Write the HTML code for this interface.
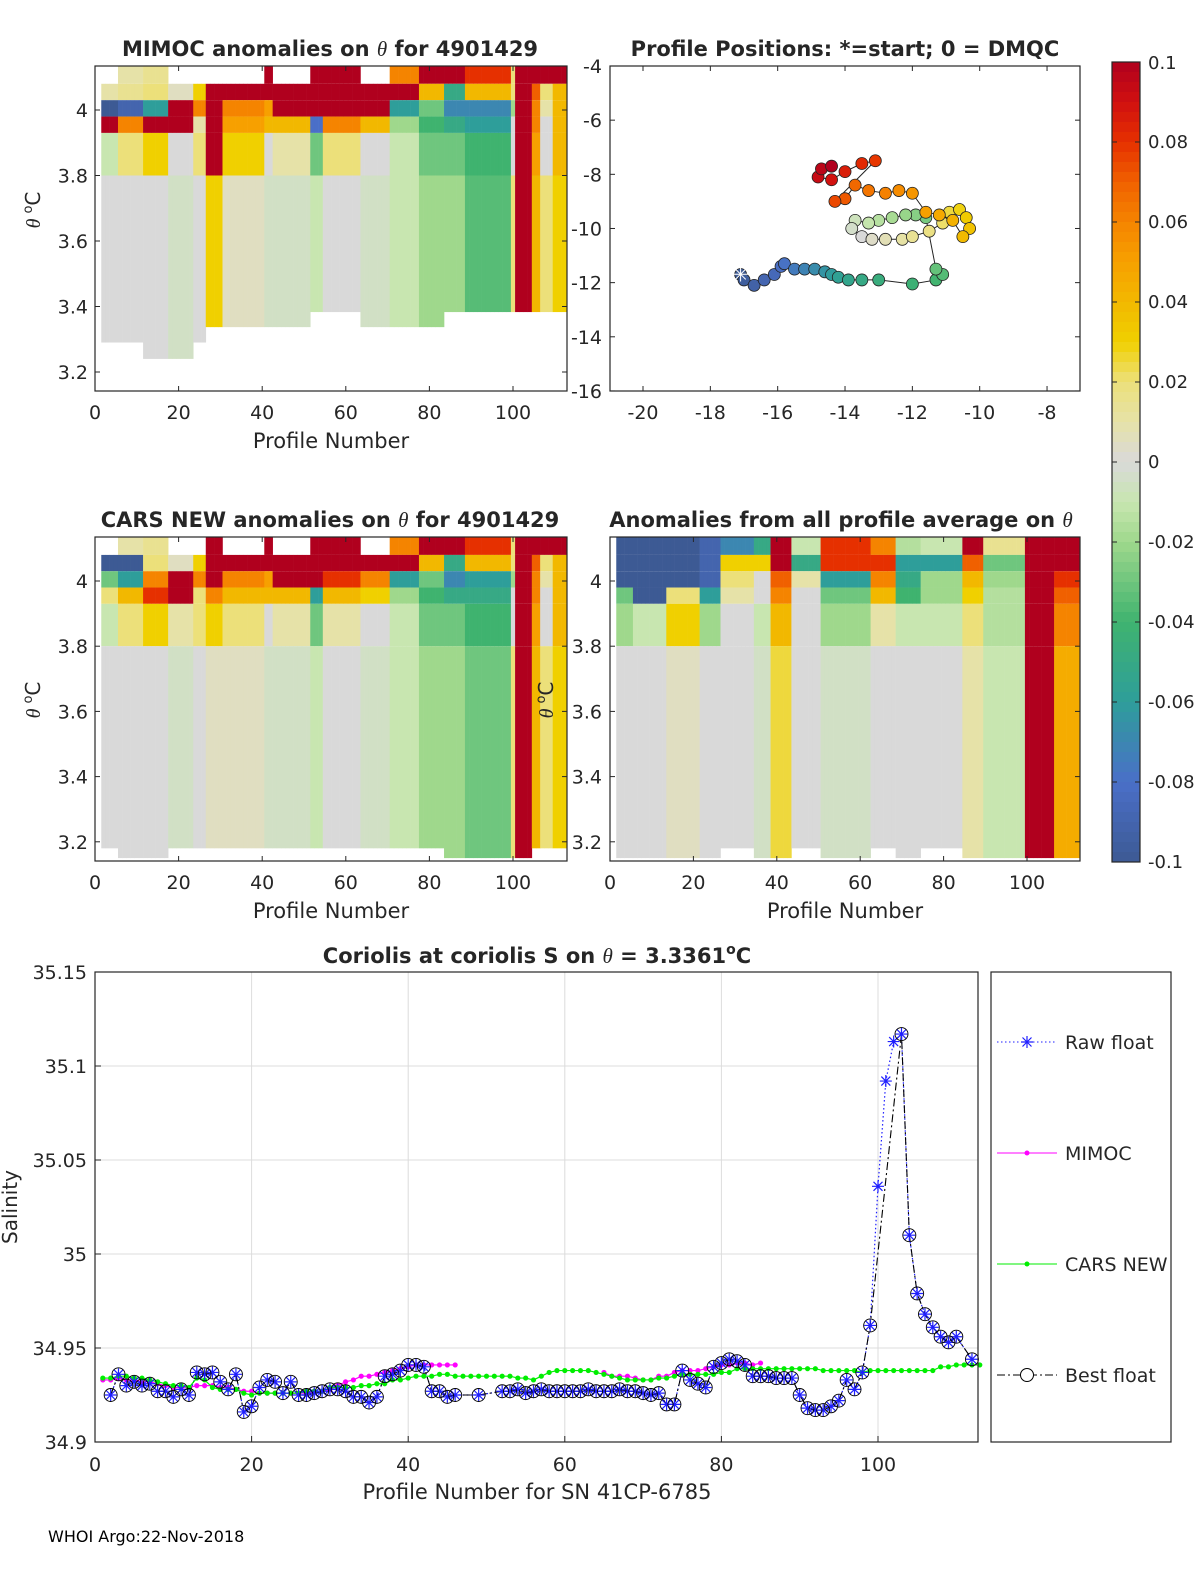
<!DOCTYPE html>
<html><head><meta charset="utf-8"><style>
body{margin:0;background:#fff;width:1200px;height:1575px;overflow:hidden}
svg{display:block;font-family:"DejaVu Sans","Liberation Sans",sans-serif}
</style></head><body>
<svg id="fig" width="1200" height="1575" viewBox="0 0 1200 1575" xmlns="http://www.w3.org/2000/svg"></svg>
<script>
// ---------- Heatmap data (grouped profile ranges, band values) ----------
const bandTops = [4.134, 4.08, 4.03, 3.98, 3.93, 3.8];
const mimocStart = [2,6,12,18,24,27,31,41,43,52,55,64,71,78,84,89,100,101,105,107,110];
const mimocEnd   = [5,11,17,23,26,30,40,42,51,54,63,70,77,83,88,99,100,104,106,109,113];
const mimocB0 = [null,0.01,0.015,null,null,null,null,0.1,null,0.1,0.1,null,0.06,0.1,0.1,0.08,0.02,0.1,0.1,0.1,0.1];
const mimocB1 = [0.01,0.015,0.02,0.005,0.03,0.1,0.1,0.1,0.1,0.1,0.1,0.1,0.1,0.04,-0.05,0.04,0.02,0.1,0.07,0.02,0.04];
const mimocB2 = [-0.1,-0.09,-0.06,0.1,0.06,0.1,0.06,0.05,0.1,0.1,0.1,0.1,-0.06,-0.03,-0.07,-0.07,-0.02,0.1,0.06,0.01,0.04];
const mimocB3 = [0.1,0.06,0.1,0.1,0.01,0.1,0.05,0.04,0.04,-0.08,0.06,0.04,-0.02,-0.04,-0.05,-0.06,0,0.1,0.06,0,0.04];
const mimocB4 = [-0.01,0.02,0.03,0,0.02,0.1,0.03,0,0.01,-0.03,0.02,0,-0.01,-0.03,-0.03,-0.04,0,0.1,0.05,0,0.04];
const mimocB5 = [0,0,0,-0.005,0,0.03,0.005,-0.005,-0.005,-0.01,0,-0.005,-0.01,-0.02,-0.02,-0.035,0.02,0.1,0.04,0.02,0.03];
const mimocBottom = [3.29,3.29,3.24,3.24,3.29,3.337,3.337,3.337,3.337,3.383,3.383,3.337,3.337,3.337,3.383,3.383,3.383,3.383,3.383,3.383,3.383];

const carsB0 = [null,0.01,0.015,null,null,0.1,null,0.1,null,0.1,0.1,null,0.06,0.1,0.1,0.08,0.02,0.1,0.1,0.1,0.1];
const carsB1 = [-0.1,-0.1,0.02,0.005,0.03,0.1,0.1,0.1,0.1,0.1,0.1,0.1,0.1,0.04,-0.05,0.04,0.02,0.1,0.07,0.02,0.04];
const carsB2 = [-0.03,-0.06,0.06,0.1,0.06,0.1,0.06,0.05,0.1,0.1,0.08,0.06,-0.06,-0.03,-0.07,-0.06,-0.02,0.1,0.06,0.01,0.04];
const carsB3 = [0.02,0.04,0.08,0.1,0.02,0.06,0.04,0.04,0.04,-0.06,0.04,0.03,-0.02,-0.04,-0.05,-0.05,0,0.1,0.06,0,0.04];
const carsB4 = [-0.01,0.02,0.03,0.01,0.02,0.03,0.02,0,0.01,-0.03,0.01,0,-0.01,-0.03,-0.03,-0.04,0,0.1,0.05,0,0.04];
const carsB5 = [0,0,0,-0.005,0,0.005,0.005,-0.005,-0.005,-0.01,0,-0.005,-0.01,-0.02,-0.02,-0.03,0.02,0.1,0.04,0.02,0.03];
const carsBottom = [3.18,3.15,3.15,3.18,3.18,3.18,3.18,3.18,3.18,3.18,3.18,3.18,3.18,3.18,3.15,3.15,3.15,3.15,3.18,3.18,3.18];

const avgStart = [2,6,14,22,27,35,39,44,51,63,69,75,85,90,100,107];
const avgEnd   = [5,13,21,26,34,38,43,50,62,68,74,84,89,99,106,113];
const avgB0 = [-0.1,-0.1,-0.1,-0.09,-0.07,-0.05,0.1,-0.01,0.08,0.06,-0.015,-0.01,0.1,0.015,0.1,0.1];
const avgB1 = [-0.1,-0.1,-0.1,-0.09,0.03,0.03,0.1,-0.05,0.08,0.08,-0.06,-0.06,0.07,-0.03,0.1,0.1];
const avgB2 = [-0.1,-0.1,-0.1,-0.09,0.02,0,0.07,0.01,-0.06,0.06,-0.05,-0.02,0.04,-0.02,0.1,0.08];
const avgB3 = [-0.03,-0.1,0.02,-0.06,0.01,0,0.06,0,-0.03,0.04,-0.04,-0.02,0.03,-0.015,0.1,0.07];
const avgB4 = [-0.02,-0.01,0.03,-0.02,0,-0.01,0.04,0,-0.02,0.01,-0.01,-0.01,0.02,-0.015,0.1,0.06];
const avgB5 = [0,0,0.005,0,0,-0.005,0.025,0,-0.005,0,0,0,0.01,-0.01,0.1,0.045];
const avgBottom = [3.15,3.15,3.15,3.15,3.18,3.15,3.15,3.18,3.15,3.18,3.15,3.18,3.15,3.15,3.15,3.15];

// ---------- Map data ----------
const lons = [-17.1,-17,-16.7,-16.4,-16.1,-15.9,-15.8,-15.5,-15.2,-14.9,-14.6,-14.4,-14.2,-13.9,-13.5,-13,-12,-11.3,-11.1,-11.3,
 -11.6,-11.9,-12.2,-12.6,-13,-13.3,-13.7,-13.8,-13.5,-13.2,-12.8,-12.3,-12,-11.5,-11.1,-10.9,-10.6,-10.4,-10.3,-10.5,-10.8,-11.2,-11.6,
 -12,-12.4,-12.8,-13.3,-13.7,-14,-14.3,-13.1,-13.5,-14,-14.4,-14.8,-14.7,-14.4];
const lats = [-11.7,-11.9,-12.1,-11.9,-11.7,-11.4,-11.3,-11.5,-11.5,-11.5,-11.6,-11.7,-11.8,-11.9,-11.9,-11.9,-12.05,-11.9,-11.7,-11.5,
 -9.6,-9.5,-9.5,-9.6,-9.7,-9.8,-9.7,-10,-10.3,-10.4,-10.4,-10.4,-10.3,-10.1,-9.8,-9.4,-9.3,-9.6,-10,-10.3,-9.7,-9.5,-9.4,
 -8.7,-8.6,-8.7,-8.6,-8.4,-8.9,-9.0,-7.5,-7.6,-7.9,-8.2,-8.1,-7.8,-7.7];

// ---------- Salinity series ----------
const cars = [34.934,34.934,34.935,34.935,34.934,34.934,34.933,34.932,34.931,34.930,34.930,34.929,34.934,34.933,34.929,34.928,34.928,34.928,34.926,34.925,34.926,34.926,34.926,34.926,34.926,34.926,34.927,34.927,34.927,34.929,34.929,34.929,34.929,34.930,34.930,34.931,34.931,34.933,34.933,34.934,34.935,34.935,34.935,34.936,34.936,34.935,34.935,34.935,34.935,34.935,34.935,34.935,34.935,34.934,34.934,34.933,34.935,34.937,34.938,34.938,34.938,34.938,34.938,34.937,34.936,34.935,34.934,34.933,34.933,34.933,34.933,34.934,34.934,34.935,34.936,34.936,34.936,34.936,34.936,34.937,34.937,34.939,34.939,34.939,34.939,34.939,34.939,34.939,34.939,34.939,34.939,34.939,34.938,34.938,34.938,34.938,34.938,34.937,34.938,34.938,34.938,34.938,34.938,34.938,34.938,34.938,34.938,34.940,34.940,34.941,34.941,34.941,34.941];
const mimoc = [34.933,34.933,34.934,34.933,34.933,34.932,34.932,34.931,34.930,34.929,34.929,34.929,34.930,34.930,34.930,34.929,34.929,34.928,34.927,34.927,34.926,34.926,34.926,34.926,34.926,34.926,34.926,34.927,34.927,34.928,34.930,34.932,34.933,34.935,34.935,34.936,34.937,34.938,34.939,34.940,34.941,34.941,34.941,34.941,34.941,34.941,
 null,null,null,null,null,null,null,null,null,null,null,null,null,null,null,null,null,null,
 34.937,34.935,34.935,34.935,34.934,34.933,34.933,34.935,34.935,34.937,34.938,34.938,34.938,34.939,34.940,34.941,34.941,34.942,34.942,34.941,34.942];
const best = [null,34.925,34.936,34.930,34.932,34.930,34.931,34.927,34.927,34.924,34.928,34.925,34.937,34.936,34.937,34.932,34.928,34.936,34.916,34.919,
 34.929,34.933,34.932,34.926,34.932,34.925,34.925,34.926,34.927,34.928,34.928,34.927,34.924,34.924,34.921,34.924,34.935,34.936,34.938,34.941,
 34.941,34.940,34.927,34.927,34.924,34.925,null,null,34.925,null,null,34.927,34.927,34.928,34.926,34.927,34.928,34.927,34.927,34.927,
 34.927,34.927,34.928,34.927,34.927,34.927,34.928,34.927,34.927,34.926,34.925,34.926,34.920,34.920,34.938,34.933,34.931,34.929,34.940,34.942,
 34.944,34.943,34.941,34.935,34.935,34.935,34.934,34.934,34.934,34.925,34.918,34.917,34.917,34.919,34.922,34.933,34.928,34.937,34.962,null,
 null,null,35.117,35.010,34.979,34.968,34.961,34.956,34.953,34.956,null,34.944];
const rawExtraProfiles = [100,101,102];
const rawExtraValues = [35.036,35.092,35.113];

const cbTicks = ["0.1","0.08","0.06","0.04","0.02","0","-0.02","-0.04","-0.06","-0.08","-0.1"];

// ---------- helpers ----------
const NS="http://www.w3.org/2000/svg", svg=document.getElementById('fig');
function mk(tag,attrs,parent,text){const e=document.createElementNS(NS,tag);for(const k in attrs)e.setAttribute(k,attrs[k]);if(text!==undefined)e.textContent=text;(parent||svg).appendChild(e);return e;}
const stops=[[-0.1,[61,90,148]],[-0.08,[74,111,200]],[-0.06,[46,158,154]],[-0.04,[63,179,111]],[-0.02,[159,216,140]],[-0.01,[200,230,176]],[0,[217,217,217]],[0.01,[230,226,168]],[0.02,[236,224,122]],[0.03,[240,208,0]],[0.04,[242,184,0]],[0.05,[247,160,0]],[0.06,[245,132,0]],[0.07,[240,96,0]],[0.08,[230,48,0]],[0.09,[208,16,16]],[0.1,[176,0,30]]];
function cmap(v){v=Math.max(-0.1,Math.min(0.1,v));for(let i=0;i<stops.length-1;i++){const a=stops[i],b=stops[i+1];if(v<=b[0]){const t=(v-a[0])/(b[0]-a[0]);const c=a[1].map((x,j)=>Math.round(x+(b[1][j]-x)*t));return `rgb(${c})`;}}return 'rgb(176,0,30)';}

function heatPanel(name,x0,y0,w,h,xs,ys,starts,ends,bands,bottoms,thTop){
  const g=mk('g',{});
  for(let i=0;i<starts.length;i++){
    for(let p=starts[i];p<=ends[i];p++){
      const xa=xs(p-0.5), xb=Math.min(xs(p+0.5),x0+w);
      for(let b=0;b<6;b++){
        const v=bands[b][i]; if(v===null)continue;
        const tTop=b===0?thTop:bandTops[b];
        const tBot=b<5?bandTops[b+1]:bottoms[i];
        const ya=ys(tTop), yb=ys(tBot);
        const r=mk('rect',{x:xa,y:ya,width:xb-xa+0.3,height:yb-ya,fill:cmap(v)},g);
        
      }
    }
  }
}
function frame(name,x0,y0,w,h){const r=mk('rect',{x:x0,y:y0,width:w,height:h,fill:'none',stroke:'#262626','stroke-width':1.2});}
function txt(s,x,y,opts,name){const t=mk('text',Object.assign({x:x,y:y,'font-size':19,fill:'#262626'},opts||{}),svg,s);return t;}
function thetaLabel(x,y){const t=mk('text',{x:0,y:0,'font-size':20,fill:'#262626',transform:`translate(${x},${y}) rotate(-90)`,'text-anchor':'middle'});
 const a=mk('tspan',{'font-family':'Liberation Serif, serif','font-style':'italic'},t,'θ ');mk('tspan',{'font-size':13,dy:-8},t,'o');mk('tspan',{dy:8},t,'C');}

function xTicksProfile(x0,y0,h,xs,name){[0,20,40,60,80,100].forEach(v=>{const x=xs(v);mk('line',{x1:x,x2:x,y1:y0+h,y2:y0+h-5,stroke:'#262626'});mk('line',{x1:x,x2:x,y1:y0,y2:y0+5,stroke:'#262626'});txt(String(v),x,y0+h+28,{'text-anchor':'middle'},name);});}
function yTicksTheta(x0,w,ys,lx,anchor,name){[3.2,3.4,3.6,3.8,4].forEach(v=>{const y=ys(v);mk('line',{x1:x0,x2:x0+5,y1:y,y2:y,stroke:'#262626'});mk('line',{x1:x0+w,x2:x0+w-5,y1:y,y2:y,stroke:'#262626'});txt(v===4?'4':v.toFixed(1),lx,y+7,{'text-anchor':anchor},name);});}

// ---------- Panel 1: MIMOC ----------
(function(){const x0=95,y0=66,w=472,h=325;const xs=p=>x0+p*4.18, ys=t=>110+(4-t)*327.5;
 heatPanel('mimoc-heatmap',x0,y0,w,h,xs,ys,mimocStart,mimocEnd,[mimocB0,mimocB1,mimocB2,mimocB3,mimocB4,mimocB5],mimocBottom,4.134);
 frame('mimoc-axes',x0,y0,w,h);xTicksProfile(x0,y0,h,xs,'x-tick-label');yTicksTheta(x0,w,ys,88,'end','y-tick-label');
 txt('Profile Number',331,448,{'text-anchor':'middle','font-size':21},'x-axis-title');thetaLabel(40,210);
 const t=txt('',330,56,{'text-anchor':'middle','font-size':21,'font-weight':'bold'},'mimoc-title');mk('tspan',{},t,'MIMOC anomalies on ');mk('tspan',{'font-family':'Liberation Serif, serif','font-style':'italic','font-weight':'normal'},t,'θ');mk('tspan',{},t,'  for 4901429');
})();

// ---------- Panel 2: map ----------
(function(){const x0=610,y0=66,w=470,h=325;const xs=l=>643+(l+20)*33.67, ys=l=>66+(-4-l)*27.08;
 frame('map-axes',x0,y0,w,h);
 [-20,-18,-16,-14,-12,-10,-8].forEach(v=>{const x=xs(v);mk('line',{x1:x,x2:x,y1:y0+h,y2:y0+h-5,stroke:'#262626'});mk('line',{x1:x,x2:x,y1:y0,y2:y0+5,stroke:'#262626'});txt(String(v),x,y0+h+28,{'text-anchor':'middle'},'map-x-tick');});
 [-4,-6,-8,-10,-12,-14,-16].forEach(v=>{const y=ys(v);mk('line',{x1:x0,x2:x0+5,y1:y,y2:y,stroke:'#262626'});mk('line',{x1:x0+w,x2:x0+w-5,y1:y,y2:y,stroke:'#262626'});txt(String(v),602,y+7,{'text-anchor':'end'},'map-y-tick');});
 let d='';lons.forEach((l,i)=>{d+=(i?'L':'M')+xs(l)+','+ys(lats[i]);});
 const p=mk('path',{d:d,fill:'none',stroke:'#222','stroke-width':1});
 const n=lons.length;lons.forEach((l,i)=>{const c=mk('circle',{cx:xs(l),cy:ys(lats[i]),r:6,fill:cmap(-0.1+0.2*i/(n-1)),stroke:'#222','stroke-width':0.8});});
 const s=txt('✳',xs(lons[0]),ys(lats[0])+7,{'text-anchor':'middle',fill:'#fff','font-size':20},'start-marker');
 txt('Profile Positions: *=start; 0 = DMQC',845,56,{'text-anchor':'middle','font-size':21,'font-weight':'bold'},'map-title');
})();

// ---------- Panel 3: CARS ----------
(function(){const x0=95,y0=537,w=472,h=324;const xs=p=>x0+p*4.18, ys=t=>581+(4-t)*326;
 heatPanel('cars-heatmap',x0,y0,w,h,xs,ys,mimocStart,mimocEnd,[carsB0,carsB1,carsB2,carsB3,carsB4,carsB5],carsBottom,4.135);
 frame('cars-axes',x0,y0,w,h);xTicksProfile(x0,y0,h,xs,'x-tick-label');yTicksTheta(x0,w,ys,88,'end','y-tick-label');
 txt('Profile Number',331,918,{'text-anchor':'middle','font-size':21},'x-axis-title');thetaLabel(40,700);
 const t=txt('',330,527,{'text-anchor':'middle','font-size':21,'font-weight':'bold'},'cars-title');mk('tspan',{},t,'CARS NEW anomalies on ');mk('tspan',{'font-family':'Liberation Serif, serif','font-style':'italic','font-weight':'normal'},t,'θ');mk('tspan',{},t,' for 4901429');
})();

// ---------- Panel 4: anomalies from average ----------
(function(){const x0=610,y0=537,w=470,h=324;const xs=p=>x0+p*4.17, ys=t=>581+(4-t)*326;
 heatPanel('average-anomaly-heatmap',x0,y0,w,h,xs,ys,avgStart,avgEnd,[avgB0,avgB1,avgB2,avgB3,avgB4,avgB5],avgBottom,4.135);
 frame('average-axes',x0,y0,w,h);xTicksProfile(x0,y0,h,xs,'x-tick-label');yTicksTheta(x0,w,ys,602,'end','y-tick-label');
 txt('Profile Number',845,918,{'text-anchor':'middle','font-size':21},'x-axis-title');thetaLabel(553,700);
 const t=txt('',841,527,{'text-anchor':'middle','font-size':21,'font-weight':'bold'},'average-title');mk('tspan',{},t,'Anomalies from all profile average on ');mk('tspan',{'font-family':'Liberation Serif, serif','font-style':'italic','font-weight':'normal'},t,'θ');
})();

// ---------- Colorbar ----------
(function(){const x0=1112,y0=62,w=28,h=800;const N=80;
 for(let i=0;i<N;i++){const v=0.1-0.2*(i+0.5)/N;const r=mk('rect',{x:x0,y:y0+i*h/N,width:w,height:h/N+0.5,fill:cmap(v)});}
 frame('colorbar',x0,y0,w,h);
 cbTicks.forEach((s,i)=>{const y=y0+i*h/10;mk('line',{x1:x0+w,x2:x0+w-5,y1:y,y2:y,stroke:'#262626'});mk('line',{x1:x0,x2:x0+5,y1:y,y2:y,stroke:'#262626'});txt(s,1148,y+(i===0?7:(i===10?6:6)),{'font-size':18},'colorbar-tick');});
})();

// ---------- Bottom salinity chart ----------
(function(){const x0=95,y0=972,w=883,h=470;const xs=p=>x0+p*7.83, ys=v=>1442-(v-34.9)*1880;
 const bg=mk('rect',{x:x0,y:y0,width:w,height:h,fill:'#fff'});
 [20,40,60,80,100].forEach(v=>{const x=xs(v);mk('line',{x1:x,x2:x,y1:y0,y2:y0+h,stroke:'#dcdcdc'});});
 [34.95,35,35.05,35.1].forEach(v=>{const y=ys(v);mk('line',{x1:x0,x2:x0+w,y1:y,y2:y,stroke:'#dcdcdc'});});
 [0,20,40,60,80,100].forEach(v=>{const x=xs(v);mk('line',{x1:x,x2:x,y1:y0+h,y2:y0+h-6,stroke:'#262626'});txt(String(v),x,y0+h+29,{'text-anchor':'middle'},'x-tick-label');});
 [[34.9,'34.9'],[34.95,'34.95'],[35,'35'],[35.05,'35.05'],[35.1,'35.1'],[35.15,'35.15']].forEach(([v,s])=>{const y=ys(v);mk('line',{x1:x0,x2:x0+6,y1:y,y2:y,stroke:'#262626'});txt(s,87,y+7,{'text-anchor':'end'},'y-tick-label');});
 // best float line (dash-dot)
 let d='';let first=true;best.forEach((v,i)=>{if(v===null)return;d+=(first?'M':'L')+xs(i+1)+','+ys(v);first=false;});
 // raw line
 const raw=best.slice();rawExtraProfiles.forEach((p,k)=>{raw[p-1]=rawExtraValues[k];});
 let dr='';first=true;raw.forEach((v,i)=>{if(v===null)return;dr+=(first?'M':'L')+xs(i+1)+','+ys(v);first=false;});
 const rl=mk('path',{d:dr,fill:'none',stroke:'#1f1fff','stroke-width':1.2,'stroke-dasharray':'1.5,2.5'});
 const bl=mk('path',{d:d,fill:'none',stroke:'#000','stroke-width':1.1,'stroke-dasharray':'8,3,2,3'});
 function dotLine(arr,col,name){let dd='',started=false;arr.forEach((v,i)=>{if(v===null){started=false;return;}dd+=(started?'L':'M')+xs(i+1)+','+ys(v);started=true;});
   const l=mk('path',{d:dd,fill:'none',stroke:col,'stroke-width':1.2});
   arr.forEach((v,i)=>{if(v===null)return;const c=mk('circle',{cx:xs(i+1),cy:ys(v),r:2.6,fill:col});});}
 dotLine(mimoc,'#ff00ff','mimoc');
 dotLine(cars,'#00ee00','cars');
 raw.forEach((v,i)=>{if(v===null)return;const x=xs(i+1),y=ys(v);const g=mk('g',{});
   mk('path',{d:`M${x-6},${y}H${x+6}M${x},${y-6}V${y+6}M${x-4.5},${y-4.5}L${x+4.5},${y+4.5}M${x-4.5},${y+4.5}L${x+4.5},${y-4.5}`,stroke:'#1f1fff','stroke-width':1.2},g);});
 best.forEach((v,i)=>{if(v===null)return;const c=mk('circle',{cx:xs(i+1),cy:ys(v),r:6.5,fill:'none',stroke:'#000','stroke-width':0.9});});
 frame('salinity-axes',x0,y0,w,h);
 txt('Salinity',17,1207,{'text-anchor':'middle',transform:'rotate(-90 17 1207)','font-size':20},'y-axis-title');
 txt('Profile Number for SN 41CP-6785',537,1499,{'text-anchor':'middle','font-size':21},'x-axis-title');
 const t=txt('',537,963,{'text-anchor':'middle','font-size':21,'font-weight':'bold'},'salinity-title');mk('tspan',{},t,'Coriolis at coriolis S on ');mk('tspan',{'font-family':'Liberation Serif, serif','font-style':'italic','font-weight':'normal'},t,'θ');mk('tspan',{},t,' = 3.3361');mk('tspan',{'font-size':14,dy:-9},t,'o');mk('tspan',{dy:9},t,'C');
 // legend
 frame('legend',991,972,180,470);
 const L=[[1042,'Raw float','raw'],[1153,'MIMOC','mimoc'],[1264,'CARS NEW','cars'],[1375,'Best float','best']];
 L.forEach(([y,s,k])=>{const g=mk('g',{});
  if(k==='raw'){mk('line',{x1:997,x2:1057,y1:y,y2:y,stroke:'#1f1fff','stroke-dasharray':'1.5,2.5'},g);mk('path',{d:`M1021,${y}H1033M1027,${y-6}V${y+6}M1022.5,${y-4.5}L1031.5,${y+4.5}M1022.5,${y+4.5}L1031.5,${y-4.5}`,stroke:'#1f1fff','stroke-width':1.2},g);}
  if(k==='mimoc'){mk('line',{x1:997,x2:1057,y1:y,y2:y,stroke:'#ff00ff'},g);mk('circle',{cx:1027,cy:y,r:2.5,fill:'#ff00ff'},g);}
  if(k==='cars'){mk('line',{x1:997,x2:1057,y1:y,y2:y,stroke:'#00ee00'},g);mk('circle',{cx:1027,cy:y,r:2.5,fill:'#00ee00'},g);}
  if(k==='best'){mk('line',{x1:997,x2:1057,y1:y,y2:y,stroke:'#000','stroke-dasharray':'8,3,2,3'},g);mk('circle',{cx:1027,cy:y,r:6.5,fill:'#fff',stroke:'#000'},g);}
  txt(s,1065,y+7,{},'legend-label');});
})();
txt('WHOI Argo:22-Nov-2018',48,1542,{'font-size':16,fill:'#000'},'footer-date');
</script>
</body></html>
